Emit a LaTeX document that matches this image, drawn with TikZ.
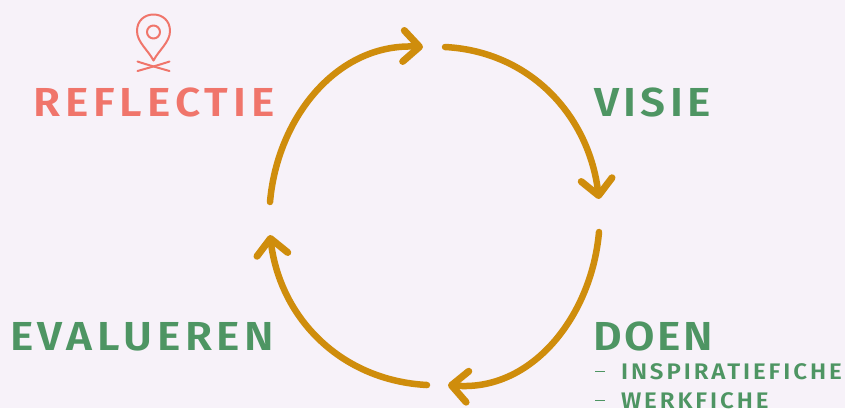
\documentclass[tikz,border=0pt]{standalone}
\usepackage{fontspec}
\usepackage{xcolor}
\usetikzlibrary{
    arrows.meta,
    positioning
}
\setmainfont{Fira Sans}
\newfontfamily\labelfont[LetterSpace=11,FakeStretch=1.09,UprightFont=* SemiBold]{Fira Sans}
\newfontfamily\subfont[LetterSpace=13,FakeStretch=1.07,UprightFont=* SemiBold]{Fira Sans}
\definecolor{pagebg}{HTML}{F7F2F9}
\definecolor{stepgreen}{HTML}{4E9563}
\definecolor{stepred}{HTML}{F0756B}
\definecolor{cyclegold}{HTML}{CF8D0C}
\tikzset{
    cycleline/.style={draw=cyclegold,line width=6.5pt,line cap=round,line join=round,
        -{Straight Barb[length=16pt,width=31pt,round,line width=7pt]}},
    steplabel/.style={anchor=base west,inner sep=0pt,outer sep=0pt,text=stepgreen,font=\labelfont\fontsize{40.5}{40.5}\selectfont},
    sublabel/.style={anchor=base west,inner sep=0pt,outer sep=0pt,text=stepgreen,font=\subfont\fontsize{22.5}{22.5}\selectfont},
    subdash/.style={draw=stepgreen,line width=1pt},
    pinline/.style={draw=stepred,line width=2pt,line cap=round,line join=round}
}
\begin{document}
\begin{tikzpicture}[x=1pt,y=-1pt]
    \useasboundingbox[fill=pagebg] (0, 0) rectangle (845, 408);

    \coordinate (topout) at (445, 47);
    \coordinate (topin) at (423, 47);
    \coordinate (rightin) at (599, 199);
    \coordinate (rightout) at (599, 232);
    \coordinate (botin) at (448, 385);
    \coordinate (botout) at (427, 385);
    \coordinate (leftin) at (270, 235);
    \coordinate (leftout) at (270, 202);

    \draw[cycleline] (topout) to[out=-3,in=97] (rightin);
    \draw[cycleline] (rightout) to[out=-95,in=-5] (botin);
    \draw[cycleline] (botout) to[out=177,in=-83] (leftin);
    \draw[cycleline] (leftout) to[out=85,in=177] (topin);

    \node[steplabel,text=stepred] (reflectie) at (33, 116) {\addfontfeature{LetterSpace=12.3}REFLECTIE};
    \node[steplabel] (visie) at (594, 116) {VISIE};
    \node[steplabel] (evalueren) at (10, 350) {\addfontfeature{LetterSpace=11.6}EVALUEREN};
    \node[steplabel] (doen) at (593, 350) {\addfontfeature{LetterSpace=7}DOEN};
    \node[sublabel] (inspiratie) at (621, 379) {INSPIRATIEFICHE};
    \node[sublabel] (werkfiche) at (621, 408) {WERKFICHE};

    \coordinate (dashaw) at (595, 371);
    \coordinate (dashae) at (605, 371);
    \coordinate (dashbw) at (595, 400);
    \coordinate (dashbe) at (605, 400);
    \draw[subdash] (dashaw) -- (dashae);
    \draw[subdash] (dashbw) -- (dashbe);

    % pin
    \draw[pinline] (153.5, 60.5) .. controls (148, 50) and (137, 42) .. (137, 31)
        .. controls (137, 9) and (170, 9) .. (170, 31)
        .. controls (170, 42) and (159, 50) .. (153.5, 60.5) -- cycle;
    \draw[pinline] (153.5, 32) circle (6.5);
    \draw[pinline] (137.5, 61.5) .. controls (148, 65) and (159, 68) .. (169.5, 71);
    \draw[pinline] (169.5, 61.5) .. controls (159, 65) and (148, 68) .. (137.5, 71);
\end{tikzpicture}
\end{document}
